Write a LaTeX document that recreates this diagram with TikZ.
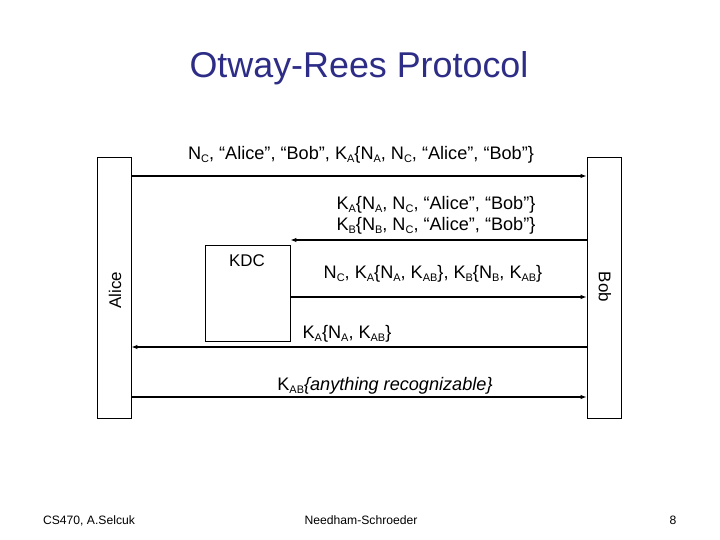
\documentclass[tikz,border=0pt]{standalone}
\usepackage{fontspec}
\setmainfont{Liberation Sans}
\usetikzlibrary{arrows.meta}
\definecolor{titleblue}{RGB}{45,45,135}
\newcommand{\sbs}[1]{\raisebox{-3bp}{\fontsize{11}{11}\selectfont #1}}
\begin{document}
\begin{tikzpicture}[x=1bp,y=-1bp,
  box/.style={draw,line width=0.8bp,inner sep=0pt},
  msg/.style={line width=1.6bp,-{Latex[length=6bp,width=4.5bp]}},
  lbl/.style={font=\fontsize{18.2}{20.5}\selectfont,inner sep=0pt},
  side/.style={font=\fontsize{17}{20}\selectfont,inner sep=0pt},
  foot/.style={font=\fontsize{12.2}{14}\selectfont,inner sep=0pt,anchor=base}]
\useasboundingbox (0,0) rectangle (720,540);
\node[font=\fontsize{36}{40}\selectfont,text=titleblue] (title) at (359,68) {Otway-Rees Protocol};
\node[box,minimum width=34bp,minimum height=261bp] (alice) at (114,287.5) {};
\node[box,minimum width=34bp,minimum height=261bp] (bob) at (604,287.5) {};
\node[box,minimum width=85bp,minimum height=96bp] (kdc) at (247.5,293) {};
\node[side] (kdct) at (247,261) {KDC};
\node[side,rotate=90] (alicet) at (115,290) {Alice};
\node[side,rotate=-90] (bobt) at (605,287) {Bob};
\coordinate (y1) at (0,176);
\coordinate (y2) at (0,240);
\coordinate (y3) at (0,297);
\coordinate (y4) at (0,347);
\coordinate (y5) at (0,397);
\draw[msg] (alice.east |- y1) -- (bob.west |- y1);
\draw[msg] (bob.west |- y2) -- (kdc.east |- y2);
\draw[msg] (kdc.east |- y3) -- (bob.west |- y3);
\draw[msg] (bob.west |- y4) -- (alice.east |- y4);
\draw[msg] (alice.east |- y5) -- (bob.west |- y5);
\node[lbl] (l1) at (361,155) {N\sbs{C}, “Alice”, “Bob”, K\sbs{A}\{N\sbs{A}, N\sbs{C}, “Alice”, “Bob”\}};
\node[lbl,align=center] (l2) at (436,215.5) {K\sbs{A}\{N\sbs{A}, N\sbs{C}, “Alice”, “Bob”\}\\K\sbs{B}\{N\sbs{B}, N\sbs{C}, “Alice”, “Bob”\}};
\node[lbl] (l3) at (433,274) {N\sbs{C}, K\sbs{A}\{N\sbs{A}, K\sbs{AB}\}, K\sbs{B}\{N\sbs{B}, K\sbs{AB}\}};
\node[lbl] (l4) at (347,334) {K\sbs{A}\{N\sbs{A}, K\sbs{AB}\}};
\node[lbl] (l5) at (385,386) {K\sbs{AB}\textit{\{anything recognizable\}}};
\node[foot] (f1) at (89,524.5) {CS470, A.Selcuk};
\node[foot] (f2) at (361,524.5) {Needham-Schroeder};
\node[foot] (f3) at (673,524.5) {8};
\end{tikzpicture}
\end{document}
